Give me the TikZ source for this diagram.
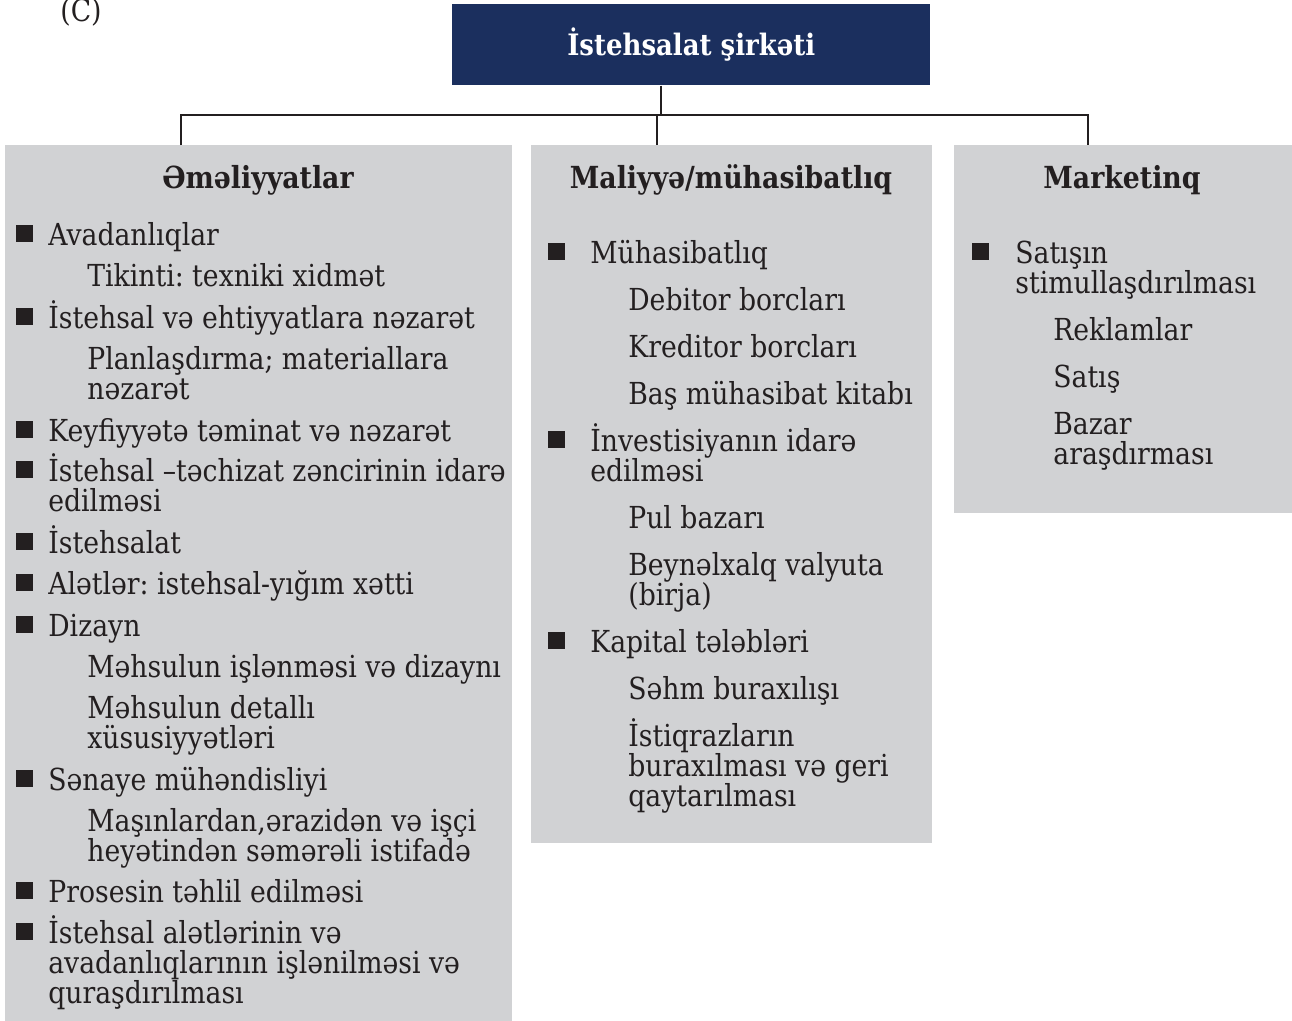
\documentclass[tikz,border=0pt]{standalone}
\usepackage{fontspec}
\setmainfont{DejaVu Serif}[FakeStretch=0.88]
\usetikzlibrary{positioning}
\definecolor{navy}{HTML}{1B2F5E}
\definecolor{panelgray}{HTML}{D1D2D4}
\definecolor{ink}{HTML}{231F20}
\frenchspacing
\tikzset{
  panel/.style={fill=panelgray, draw=none, inner sep=0pt, anchor=north west},
  head/.style={anchor=base, inner sep=0pt, text=ink, font=\bfseries\fontsize{17.3}{17}\selectfont},
  item/.style={anchor=base west, align=left, inner sep=0pt, text=ink, font=\fontsize{17.25}{17}\selectfont},
  conn/.style={draw=ink, line width=0.8pt}
}
\begin{document}
\begin{tikzpicture}[x=0.02cm, y=-0.02cm]
  \useasboundingbox (0,0) rectangle (1292,1021);
  \node[item, anchor=base] (tag) at (81,21) {(C)};
  % top box
  \node[fill=navy, text=white, minimum width=9.56cm, minimum height=1.62cm, inner sep=0pt,
        anchor=north west, font=\bfseries\fontsize{16.8}{17}\selectfont] (firm) at (452,4) {İstehsalat şirkəti};
  % panels
  \node[panel, minimum width=10.14cm, minimum height=17.52cm] (ops) at (5,145) {};
  \node[panel, minimum width=8.02cm, minimum height=13.96cm] (fin) at (531,145) {};
  \node[panel, minimum width=6.76cm, minimum height=7.36cm] (mkt) at (954,145) {};
  % connectors
  \coordinate (jt) at (661,115);
  \coordinate (jo) at (181,115);
  \coordinate (jm) at (657,115);
  \coordinate (jk) at (1088,115);
  \draw[conn] (firm.south -| jt) -- (jt);
  \draw[conn] (ops.north -| jo) -- (jo) -- (jk) -- (jk |- mkt.north);
  \draw[conn] (jm) -- (jm |- fin.north);
  % headings
  \node[head] (opsh) at (258,188) {Əməliyyatlar};
  \node[head] (finh) at (731,188) {Maliyyə/mühasibatlıq};
  \node[head] (mkth) at (1122,188) {Marketinq};
  % Əməliyyatlar (multi-line items sit on their last baseline)
  \node[item] (o1) at (48,245) {Avadanlıqlar};
  \node[item] (o1a) at (87,286) {Tikinti: texniki xidmət};
  \node[item] (o2) at (48,328) {İstehsal və ehtiyyatlara nəzarət};
  \node[item] (o2a) at (87,399) {Planlaşdırma; materiallara\\nəzarət};
  \node[item] (o3) at (48,441) {Keyfiyyətə təminat və nəzarət};
  \node[item] (o4) at (48,511) {İstehsal –təchizat zəncirinin idarə\\edilməsi};
  \node[item] (o5) at (48,553) {İstehsalat};
  \node[item] (o6) at (48,594) {Alətlər: istehsal-yığım xətti};
  \node[item] (o7) at (48,636) {Dizayn};
  \node[item] (o7a) at (87,677) {Məhsulun işlənməsi və dizaynı};
  \node[item] (o7b) at (87,748) {Məhsulun detallı\\xüsusiyyətləri};
  \node[item] (o8) at (48,790) {Sənaye mühəndisliyi};
  \node[item] (o8a) at (87,861) {Maşınlardan,ərazidən və işçi\\heyətindən səmərəli istifadə};
  \node[item] (o9) at (48,902) {Prosesin təhlil edilməsi};
  \node[item] (o10) at (48,1003) {İstehsal alətlərinin və\\avadanlıqlarının işlənilməsi və\\quraşdırılması};
  \foreach \y in {245,328,441,481,553,594,636,790,902,943}
    \fill[ink] (16,\y-20) rectangle (33,\y-3);
  % Maliyyə/mühasibatlıq
  \node[item] (f1) at (590,263) {Mühasibatlıq};
  \node[item] (f1a) at (628,310) {Debitor borcları};
  \node[item] (f1b) at (628,357) {Kreditor borcları};
  \node[item] (f1c) at (628,404) {Baş mühasibat kitabı};
  \node[item] (f2) at (590,481) {İnvestisiyanın idarə\\edilməsi};
  \node[item] (f2a) at (628,528) {Pul bazarı};
  \node[item] (f2b) at (628,605) {Beynəlxalq valyuta\\(birja)};
  \node[item] (f3) at (590,652) {Kapital tələbləri};
  \node[item] (f3a) at (628,699) {Səhm buraxılışı};
  \node[item] (f3b) at (628,806) {İstiqrazların\\buraxılması və geri\\qaytarılması};
  \foreach \y in {263,451,652}
    \fill[ink] (548,\y-20) rectangle (565,\y-3);
  % Marketinq
  \node[item] (m1) at (1015,293) {Satışın\\stimullaşdırılması};
  \node[item] (m1a) at (1053,340) {Reklamlar};
  \node[item] (m1b) at (1053,387) {Satış};
  \node[item] (m1c) at (1053,464) {Bazar\\araşdırması};
  \fill[ink] (972,243) rectangle (989,260);
\end{tikzpicture}
\end{document}
